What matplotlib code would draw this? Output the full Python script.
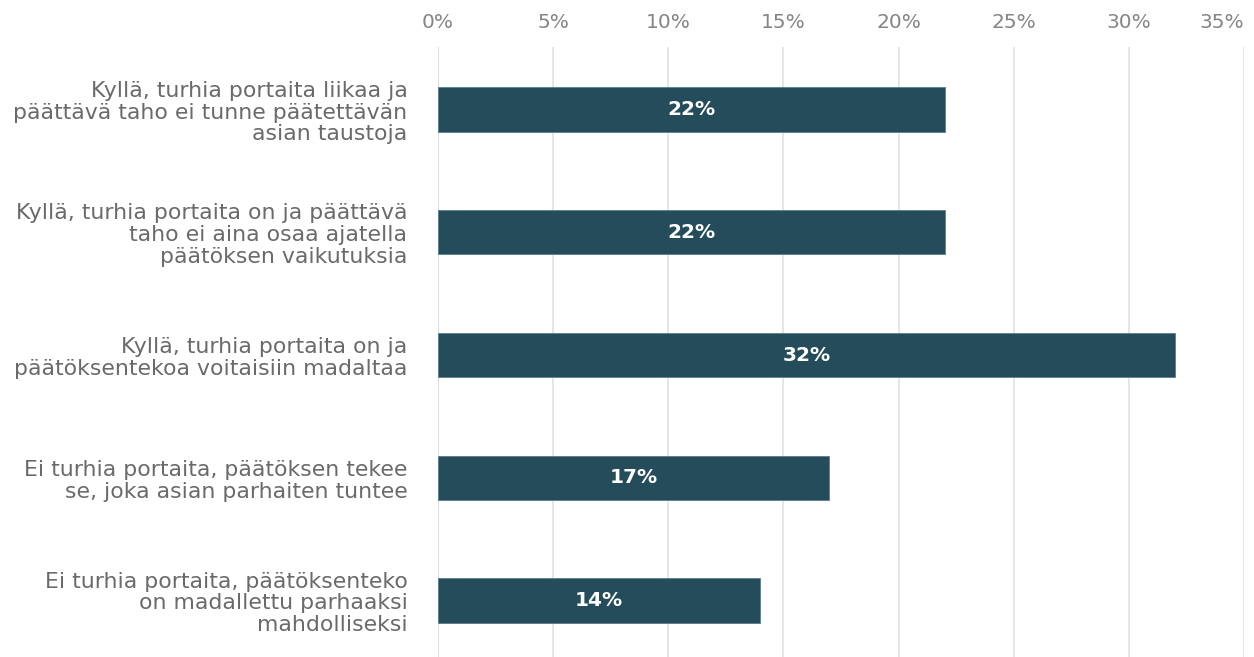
import numpy as np
import matplotlib.pyplot as plt

plt.rcParams['font.family'] = ['DejaVu Sans']

categories = [
    "Kyllä, turhia portaita liikaa ja\npäättävä taho ei tunne päätettävän\nasian taustoja",
    "Kyllä, turhia portaita on ja päättävä\ntaho ei aina osaa ajatella\npäätöksen vaikutuksia",
    "Kyllä, turhia portaita on ja\npäätöksentekoa voitaisiin madaltaa",
    "Ei turhia portaita, päätöksen tekee\nse, joka asian parhaiten tuntee",
    "Ei turhia portaita, päätöksenteko\non madallettu parhaaksi\nmahdolliseksi",
]
values = [22, 22, 32, 17, 14]
xticks = [0, 5, 10, 15, 20, 25, 30, 35]

bar_color = '#244c5a'
text_gray = '#6a6a6a'

fig = plt.figure(figsize=(12.54, 6.57), dpi=100)
ax = fig.add_axes([0.3493, 0.0, 0.992 - 0.3493, 0.9285])

y = np.arange(len(categories))
ax.barh(y, values, height=0.36, color=bar_color, edgecolor='#5a7d8a', linewidth=0.6, zorder=3)
for yi, v in zip(y, values):
    ax.text(v / 2, yi, f'{v}%', ha='center', va='center', color='white',
            fontsize=14.5, fontweight='bold', zorder=4)

ax.set_xlim(0, 35)
ax.set_ylim(4.46, -0.51)
ax.set_xticks(xticks)
ax.set_xticklabels([f'{t}%' for t in xticks])
ax.xaxis.tick_top()
ax.tick_params(axis='x', length=0, pad=11, labelsize=14.5, labelcolor='#858585')
xl = ax.get_xticklabels()
xl[-1].set_horizontalalignment('right')

ax.set_yticks(y)
ax.set_yticklabels(categories, ha='right', multialignment='right', linespacing=1.12)
ax.tick_params(axis='y', length=0, pad=22, labelsize=15.8, labelcolor=text_gray)

ax.grid(axis='x', color='#e2e2e2', linewidth=1.2, zorder=0)
ax.axvline(0, color='#cdd5ea', linewidth=1.5, zorder=1)
for s in ax.spines.values():
    s.set_visible(False)

fig.savefig('out.png', dpi=100)
